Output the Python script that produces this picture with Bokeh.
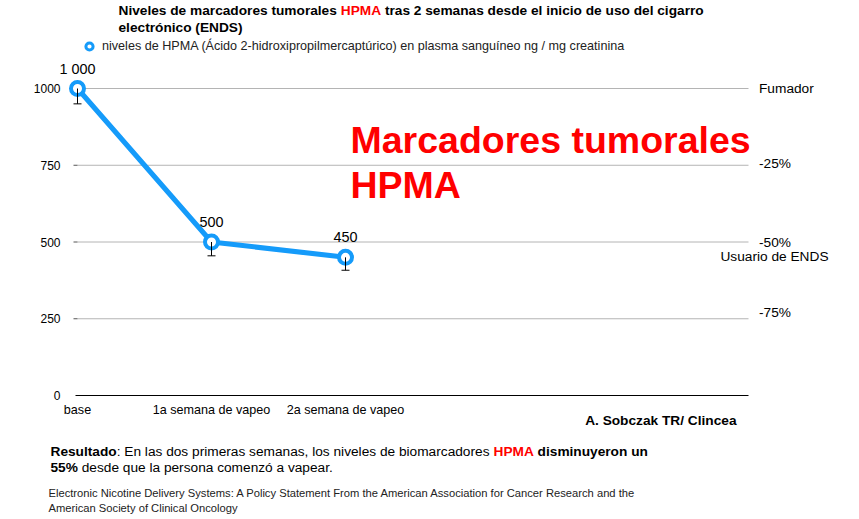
from bokeh.plotting import figure
from bokeh.models import (Range1d, Label, LabelSet, Whisker, TeeHead,
                          ColumnDataSource, Legend, LegendItem)
from bokeh.core.properties import value
from bokeh.embed import file_html
from bokeh.resources import INLINE

# ---------------- data ----------------
categories = ["base", "1a semana de vapeo", "2a semana de vapeo"]
hpma_values = [1000, 500, 450]
hpma_error_low = [50, 45, 42]
value_labels = [f"{v:,}".replace(",", " ") for v in hpma_values]
y_ticks = [0, 250, 500, 750, 1000]
right_ticks = [1000, 750, 500, 250]
right_labels = ["Fumador", "-25%", "-50%", "-75%"]
series_name = "niveles de HPMA (Ácido 2-hidroxipropilmercaptúrico) en plasma sanguíneo ng / mg creatinina"

# ---------------- layout constants (pixels) ----------------
W, H = 859, 519
X_PX0 = 77.0     # pixel of first category
Y_PX0 = 395.0    # pixel of value 0
SX = 134.0       # pixels per category step
SY = 0.307       # pixels per unit on y
RIGHT_LABEL_SHIFT = [0, 2, 0, 6]   # px the right-hand labels sit above their ticks


def X(px):
    return (px - X_PX0) / SX


def Y(py):
    return (Y_PX0 - py) / SY


BLUE = "#159BFA"
RED = "#FF0000"
GRID = "#B4B4B4"
FONT = "Liberation Sans"

p = figure(width=W, height=H, x_range=Range1d(X(0), X(W)), y_range=Range1d(Y(H), Y(0)),
           output_backend="svg", toolbar_location=None,
           x_axis_location=None, y_axis_location=None, min_border=0)
p.title.visible = False
p.outline_line_color = None
p.xgrid.visible = False
p.ygrid.visible = False
p.background_fill_color = "white"
p.border_fill_color = "white"

# grid lines (start at first category, end at right edge of plot area)
gt = [t for t in y_ticks if t > 0]
p.segment(x0=[0] * len(gt), y0=gt, x1=[X(748)] * len(gt), y1=gt,
          line_color=GRID, line_width=1)
# small left tick marks
p.segment(x0=[X(73)] * len(gt), y0=gt, x1=[X(77)] * len(gt), y1=gt,
          line_color="#555555", line_width=1)
# zero baseline
p.segment(x0=[X(75)], y0=[0], x1=[X(748)], y1=[0], line_color="black", line_width=1)

# left tick labels
p.text(x=[X(60)] * len(y_ticks), y=y_ticks, text=[str(t) for t in y_ticks],
       text_align="right", text_baseline="middle", text_font=value(FONT),
       text_font_size="12px", text_color="black")
# category labels
p.text(x=list(range(len(categories))), y=[Y(409)] * len(categories), text=categories,
       text_align="center", text_baseline="middle", text_font=value(FONT),
       text_font_size="12.6px", text_color="black")
# right-hand reference labels
p.text(x=[X(758.5)] * len(right_ticks),
       y=[t + s / SY for t, s in zip(right_ticks, RIGHT_LABEL_SHIFT)],
       text=right_labels,
       text_align="left", text_baseline="middle", text_font=value(FONT),
       text_font_size="13.7px", text_color="black")

xs = list(range(len(categories)))
src = ColumnDataSource(dict(
    x=xs, y=hpma_values,
    lower=[v - e for v, e in zip(hpma_values, hpma_error_low)],
    lbl=value_labels))

p.line("x", "y", source=src, line_color=BLUE, line_width=5)
r_leg = p.scatter("x", "y", source=src, size=7, line_width=3,
                  fill_color="white", line_color=BLUE)
p.scatter("x", "y", source=src, size=13, line_width=4,
          fill_color="white", line_color=BLUE)

wh = Whisker(base="x", upper="y", lower="lower", source=src, dimension="height",
             line_color="black", line_width=1, upper_head=None,
             lower_head=TeeHead(size=8, line_color="black", line_width=1),
             level="overlay")
p.add_layout(wh)

p.add_layout(LabelSet(x="x", y="y", text="lbl", source=src, y_offset=20,
                      text_align="center", text_baseline="middle",
                      text_font=value(FONT), text_font_size="14.4px", text_color="black"))

legend = Legend(items=[LegendItem(label=series_name, renderers=[r_leg])],
                location=(80, H - 55), padding=0, margin=0, spacing=0,
                glyph_width=18, glyph_height=18, label_height=18,
                label_standoff=4, label_text_font=FONT,
                label_text_font_size="12.6px", label_text_color="#222222",
                border_line_color=None, background_fill_alpha=0)
p.add_layout(legend)


def add_text(text, px, py, size, bold=False, color="black", align="left"):
    p.add_layout(Label(x=X(px), y=Y(py), text=text,
                       text_font=FONT, text_font_size=f"{size}px",
                       text_font_style="bold" if bold else "normal",
                       text_color=color, text_align=align, text_baseline="middle"))


# title
add_text("Niveles de marcadores tumorales", 118, 10, 13.7, True)
add_text("HPMA", 340.3, 10, 13.7, True, RED)
add_text("tras 2 semanas desde el inicio de uso del cigarro", 384.4, 10, 13.7, True)
add_text("electrónico (ENDS)", 118, 27, 13.7, True)

# big red text
add_text("Marcadores tumorales", 350, 139, 37.5, True, RED)
add_text("HPMA", 350, 184, 37.5, True, RED)

# right side note
add_text("Usuario de ENDS", 774, 256, 13.7, False, "black", "center")

# source
add_text("A. Sobczak TR/ Clincea", 736, 420, 13.7, True, "black", "right")

# result
add_text("Resultado", 50, 451, 13.7, True)
add_text(": En las dos primeras semanas, los niveles de biomarcadores", 116.2, 451, 13.7)
add_text("HPMA", 493, 451, 13.7, True, RED)
add_text("disminuyeron un", 537.1, 451, 13.7, True)
add_text("55%", 50, 467, 13.7, True)
add_text("desde que la persona comenzó a vapear.", 81.2, 467, 13.7)

# citation
add_text("Electronic Nicotine Delivery Systems: A Policy Statement From the American Association for Cancer Research and the",
         48, 492, 11.2, False, "#222222")
add_text("American Society of Clinical Oncology", 48, 507, 11.2, False, "#222222")

open("out.html", "w").write(file_html(p, INLINE))
